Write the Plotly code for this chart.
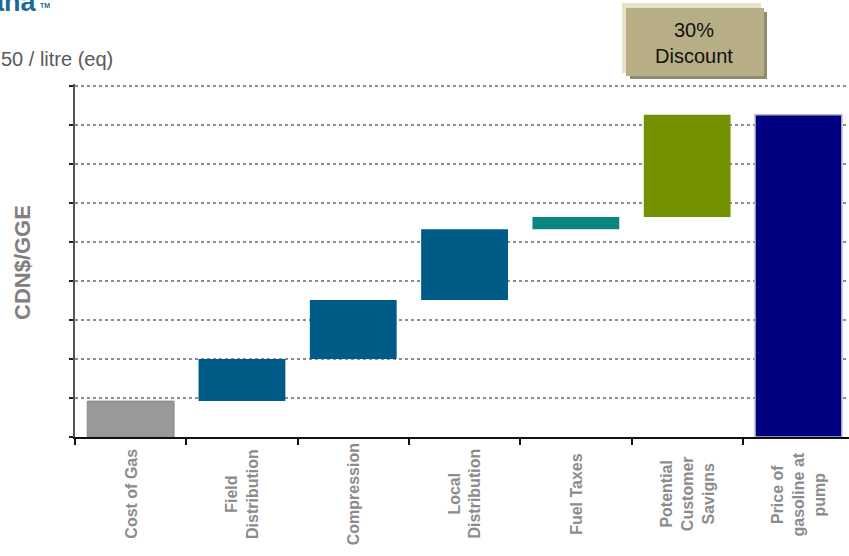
import plotly.graph_objects as go

# Cost build-up per gasoline-gallon-equivalent
categories = [
    "Cost of Gas",
    "Field<br>Distribution",
    "Compression",
    "Local<br>Distribution",
    "Fuel Taxes",
    "Potential<br>Customer<br>Savigns",
    "Price of<br>gasoline at<br>pump",
]
steps = [0.92, 1.08, 1.51, 1.82, 0.31, 2.62]   # incremental components
pump_price = 8.26                               # total bar
bar_colors = ["#999999", "#005B86", "#005B86", "#005B86", "#0A8580", "#739100", "#000080"]
line_colors = ["#8a8a8a", "#005B86", "#005B86", "#005B86", "#0A8580", "#739100", "#b8b8c8"]
line_widths = [1, 0, 0, 0, 0, 0, 1.5]

# floating bars: each step starts where the previous one ended
bases, heights = [], []
running = 0.0
for s in steps:
    bases.append(running)
    heights.append(s)
    running += s
bases.append(0.0)
heights.append(pump_price)

W, H = 849, 556
L, R, T, B = 75, 0, 84, 119
PW, PH = W - L - R, H - T - B
unit_px = 39.0                      # pixels per y unit
y_top = PH / unit_px                # slight headroom so the top gridline shows


def px(x):
    return (x - L) / PW


def py(y):
    return (H - B - y) / PH


xs = list(range(len(categories)))
fig = go.Figure(go.Bar(
    x=xs, y=heights, base=bases, width=0.78,
    marker=dict(color=bar_colors, line=dict(color=line_colors, width=line_widths)),
    hoverinfo="skip",
))

cat_w = PW / 6.954
fig.update_layout(
    width=W, height=H,
    margin=dict(l=L, r=R, t=T, b=B),
    plot_bgcolor="white", paper_bgcolor="white",
    showlegend=False,
    font=dict(family="Arial, Liberation Sans, sans-serif"),
    xaxis=dict(
        range=[-0.5, -0.5 + PW / cat_w],
        tickmode="array", tickvals=[i - 0.5 for i in range(7)], ticktext=[""] * 7,
        ticks="outside", ticklen=6, tickwidth=2, tickcolor="#111",
        showline=True, linecolor="#111", linewidth=2,
        showgrid=False, zeroline=False,
    ),
    yaxis=dict(
        range=[0, y_top], tickvals=list(range(10)), ticktext=[""] * 10,
        ticks="outside", ticklen=4, tickwidth=2, tickcolor="#222",
        showline=True, linecolor="#555", linewidth=2,
        showgrid=True, gridcolor="#8c8c8c", gridwidth=2, griddash="dot",
        zeroline=False,
    ),
)

annotations = []
# category labels, rotated and centred under each bar
for i, c in enumerate(categories):
    annotations.append(dict(
        x=i, y=py(494), xref="x", yref="paper", text=f"<b>{c}</b>",
        textangle=-90, showarrow=False, xanchor="center", yanchor="middle",
        font=dict(size=16, color="#8c8c8c"),
    ))
# axis title
annotations.append(dict(
    x=px(22), y=py(263), xref="paper", yref="paper", text="<b>CDN$/GGE</b>",
    textangle=-90, showarrow=False, xanchor="center", yanchor="middle",
    font=dict(size=22, color="#808080"),
))
# unit note and brand mark
annotations.append(dict(
    x=px(-1), y=py(59), xref="paper", yref="paper", text="50 / litre (eq)",
    showarrow=False, xanchor="left", yanchor="middle",
    font=dict(size=20, color="#595959"),
))
annotations.append(dict(
    x=px(39), y=py(19), xref="paper", yref="paper", text="<b>ana</b>",
    showarrow=False, xanchor="right", yanchor="bottom",
    font=dict(size=27, color="#1d6a98"),
))
annotations.append(dict(
    x=px(38), y=py(11), xref="paper", yref="paper", text="<b>TM</b>",
    showarrow=False, xanchor="left", yanchor="bottom",
    font=dict(size=7, color="#1d6a98"),
))
# discount callout
annotations.append(dict(
    x=px(694), y=py(43), xref="paper", yref="paper", text="30%<br>Discount",
    showarrow=False, xanchor="center", yanchor="middle",
    font=dict(size=20, color="#111"),
))
fig.update_layout(annotations=annotations)

shapes = [
    dict(type="rect", xref="paper", yref="paper", x0=px(622), x1=px(761), y0=py(3), y1=py(73),
         fillcolor="#E6E1CB", line=dict(width=0), layer="above"),
    dict(type="rect", xref="paper", yref="paper", x0=px(630), x1=px(767), y0=py(12), y1=py(79),
         fillcolor="#8F8A72", line=dict(width=0), layer="above"),
    dict(type="rect", xref="paper", yref="paper", x0=px(626), x1=px(764), y0=py(8), y1=py(76),
         fillcolor="#B8AE86", line=dict(width=0), layer="above"),
]
fig.update_layout(shapes=shapes)

fig.write_html("out.html")
